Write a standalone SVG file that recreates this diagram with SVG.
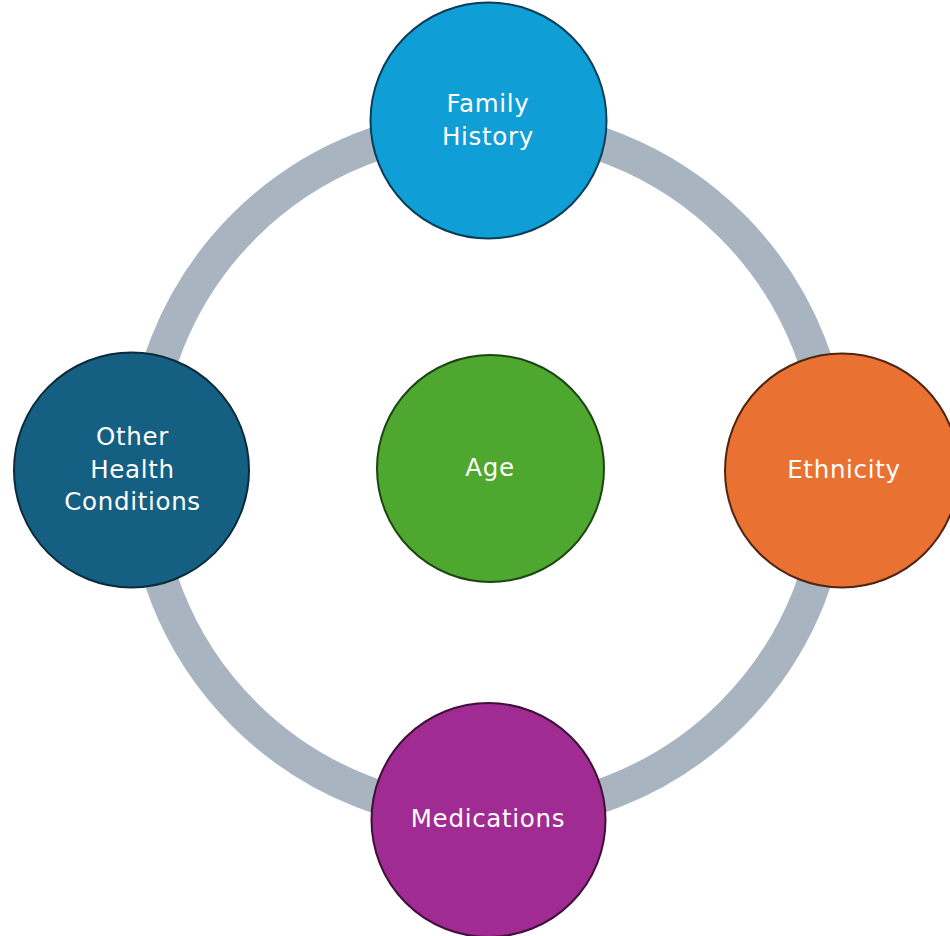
<svg xmlns="http://www.w3.org/2000/svg" width="950" height="936" viewBox="0 0 950 936">
<style>
.lbl{font-family:"DejaVu Sans","Liberation Sans",sans-serif;font-size:24.5px;fill:#ffffff;text-anchor:middle;letter-spacing:0.7px}
.node{stroke-width:2}
</style>
<rect width="950" height="936" fill="#ffffff"/>
<g id="connectors">
<circle cx="488" cy="470" r="345" fill="none" stroke="#A8B5C1" stroke-width="34"/>
</g>
<g id="node-family-history">
<circle class="node" cx="488.5" cy="120.5" r="118" fill="#0F9ED5" stroke="#0A3D55"/>
<text class="lbl" x="488" y="112">Family</text>
<text class="lbl" x="488" y="144.5">History</text>
</g>
<g id="node-ethnicity">
<circle class="node" cx="842" cy="470.5" r="117" fill="#E97132" stroke="#4F2410"/>
<text class="lbl" x="844" y="477.5">Ethnicity</text>
</g>
<g id="node-medications">
<circle class="node" cx="488.5" cy="820" r="117" fill="#A02B93" stroke="#3F0F3A"/>
<text class="lbl" x="488" y="826.5">Medications</text>
</g>
<g id="node-other-health-conditions">
<circle class="node" cx="131.5" cy="470" r="117.5" fill="#156082" stroke="#0A2A3A"/>
<text class="lbl" x="132.5" y="445">Other</text>
<text class="lbl" x="132.5" y="477.5">Health</text>
<text class="lbl" x="132.5" y="510">Conditions</text>
</g>
<g id="node-age">
<circle class="node" cx="490.5" cy="468.5" r="113.5" fill="#4EA72E" stroke="#1D4511"/>
<text class="lbl" x="490" y="475.5">Age</text>
</g>
</svg>
